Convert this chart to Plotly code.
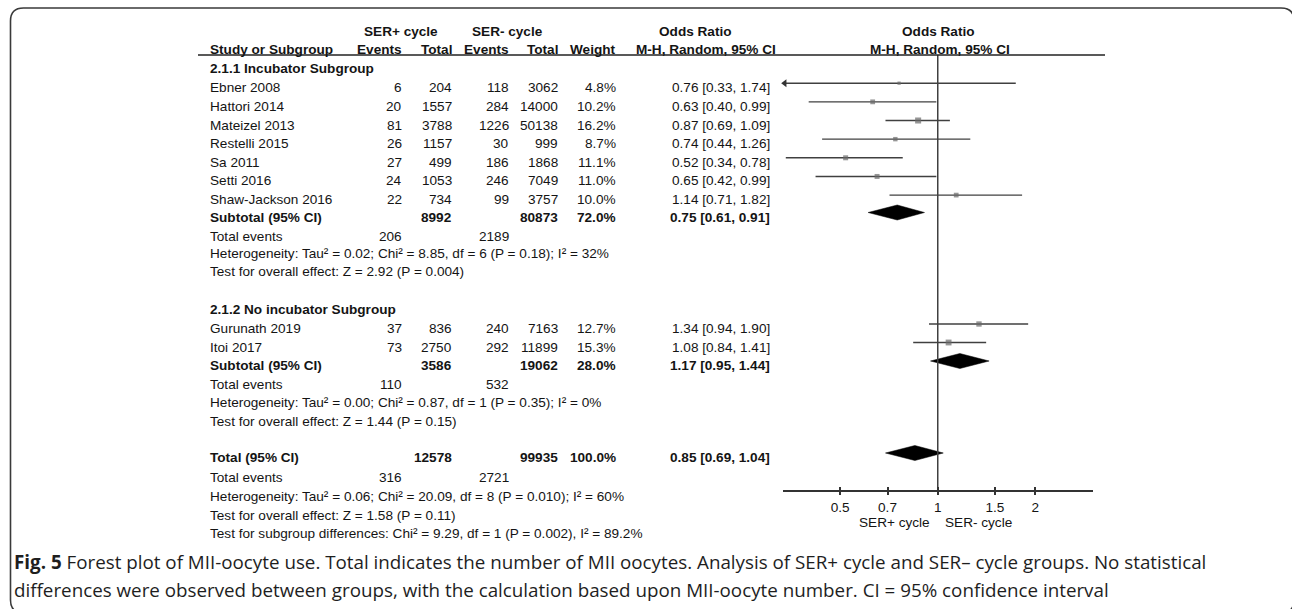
import math
import plotly.graph_objects as go

W, H = 1292, 609

# ---------------- data ----------------
g1_title = "2.1.1 Incubator Subgroup"
g1_names = ["Ebner 2008", "Hattori 2014", "Mateizel 2013", "Restelli 2015",
            "Sa 2011", "Setti 2016", "Shaw-Jackson 2016"]
g1_ev_pos = [6, 20, 81, 26, 27, 24, 22]
g1_tot_pos = [204, 1557, 3788, 1157, 499, 1053, 734]
g1_ev_neg = [118, 284, 1226, 30, 186, 246, 99]
g1_tot_neg = [3062, 14000, 50138, 999, 1868, 7049, 3757]
g1_weight = [4.8, 10.2, 16.2, 8.7, 11.1, 11.0, 10.0]
g1_or = [0.76, 0.63, 0.87, 0.74, 0.52, 0.65, 1.14]
g1_lo = [0.33, 0.40, 0.69, 0.44, 0.34, 0.42, 0.71]
g1_hi = [1.74, 0.99, 1.09, 1.26, 0.78, 0.99, 1.82]
g1_sub = dict(tot_pos=8992, tot_neg=80873, weight=72.0, est=0.75, lo=0.61, hi=0.91,
              ev_pos=206, ev_neg=2189)
g1_het = "Heterogeneity: Tau² = 0.02; Chi² = 8.85, df = 6 (P = 0.18); I² = 32%"
g1_test = "Test for overall effect: Z = 2.92 (P = 0.004)"

g2_title = "2.1.2 No incubator Subgroup"
g2_names = ["Gurunath 2019", "Itoi 2017"]
g2_ev_pos = [37, 73]
g2_tot_pos = [836, 2750]
g2_ev_neg = [240, 292]
g2_tot_neg = [7163, 11899]
g2_weight = [12.7, 15.3]
g2_or = [1.34, 1.08]
g2_lo = [0.94, 0.84]
g2_hi = [1.90, 1.41]
g2_sub = dict(tot_pos=3586, tot_neg=19062, weight=28.0, est=1.17, lo=0.95, hi=1.44,
              ev_pos=110, ev_neg=532)
g2_het = "Heterogeneity: Tau² = 0.00; Chi² = 0.87, df = 1 (P = 0.35); I² = 0%"
g2_test = "Test for overall effect: Z = 1.44 (P = 0.15)"

total = dict(tot_pos=12578, tot_neg=99935, weight=100.0, est=0.85, lo=0.69, hi=1.04,
             ev_pos=316, ev_neg=2721)
total_het = "Heterogeneity: Tau² = 0.06; Chi² = 20.09, df = 8 (P = 0.010); I² = 60%"
total_test = "Test for overall effect: Z = 1.58 (P = 0.11)"
total_subgrp = "Test for subgroup differences: Chi² = 9.29, df = 1 (P = 0.002), I² = 89.2%"

tick_vals = [0.5, 0.7, 1, 1.5, 2]
tick_text = ["0.5", "0.7", "1", "1.5", "2"]
x_min, x_max = 1 / 3, 3
favours_left = "SER+ cycle"
favours_right = "SER- cycle"

caption_bold = "Fig. 5"
caption_1 = (" Forest plot of MII-oocyte use. Total indicates the number of MII oocytes. "
             "Analysis of SER+ cycle and SER– cycle groups. No statistical")
caption_2 = ("differences were observed between groups, with the calculation based upon "
             "MII-oocyte number. CI = 95% confidence interval")

# ---------------- layout constants (pixels) ----------------
FONT = "Liberation Sans, Arial, sans-serif"
FS = 13.6
TXT = "#141414"
LINE = "#404040"
SQ = "#6a6a6a"

COL_NAME = 209
COL_EV1, COL_TOT1, COL_EV2, COL_TOT2, COL_WT, COL_CI = 403, 453, 510, 559, 617, 771

AX_Y = 490.7          # y of x axis line
AX_L, AX_R = 783, 1092.5
TOP_LINE_Y = 55
LINE_OFF = 4.5        # forest marks sit slightly above text centre

ROW_H1, ROW_H2 = 31, 49
Y_G1_TITLE = 68
Y_G1 = [87.7 + 18.65 * i for i in range(len(g1_names))]
Y_G1_SUB, Y_G1_EV, Y_G1_HET, Y_G1_TEST = 217, 236, 253.5, 271.5
Y_G2_TITLE = 309.5
Y_G2 = [328.5, 347.0]
Y_G2_SUB, Y_G2_EV, Y_G2_HET, Y_G2_TEST = 365.5, 384.3, 402.5, 421
Y_TOT, Y_TOT_EV, Y_TOT_HET, Y_TOT_TEST, Y_TOT_SUB = 457.5, 477, 496, 515, 533.3
Y_CAP1, Y_CAP2 = 562, 590

annotations = []


def txt(x, y, s, anchor="left", bold=False, size=FS, family=FONT, color=TXT):
    if bold:
        s = f"<b>{s}</b>"
    annotations.append(dict(x=x / W, xref="paper", y=y, yref="y", text=s,
                            showarrow=False, xanchor=anchor, yanchor="middle",
                            borderpad=0, font=dict(family=family, size=size, color=color)))


def ci_str(e, l, h):
    return f"{e:.2f} [{l:.2f}, {h:.2f}]"


# headers
txt(401, ROW_H1, "SER+ cycle", "center", True)
txt(507.5, ROW_H1, "SER- cycle", "center", True)
txt(695, ROW_H1, "Odds Ratio", "center", True)
txt(938.5, ROW_H1, "Odds Ratio", "center", True)
txt(COL_NAME, ROW_H2, "Study or Subgroup", "left", True)
txt(COL_EV1, ROW_H2, "Events", "right", True)
txt(COL_TOT1, ROW_H2, "Total", "right", True)
txt(COL_EV2, ROW_H2, "Events", "right", True)
txt(COL_TOT2, ROW_H2, "Total", "right", True)
txt(COL_WT, ROW_H2, "Weight", "right", True)
txt(706, ROW_H2, "M-H, Random, 95% CI", "center", True)
txt(940, ROW_H2, "M-H, Random, 95% CI", "center", True)


def study_rows(ys, names, ep, tp, en, tn, wt, est, lo, hi):
    for i, y in enumerate(ys):
        txt(COL_NAME, y, names[i])
        txt(COL_EV1, y, str(ep[i]), "right")
        txt(COL_TOT1, y, str(tp[i]), "right")
        txt(COL_EV2, y, str(en[i]), "right")
        txt(COL_TOT2, y, str(tn[i]), "right")
        txt(COL_WT, y, f"{wt[i]:.1f}%", "right")
        txt(COL_CI, y, ci_str(est[i], lo[i], hi[i]), "right")


def summary_row(y, label, d):
    txt(COL_NAME, y, label, bold=True)
    txt(COL_TOT1, y, str(d["tot_pos"]), "right", True)
    txt(COL_TOT2, y, str(d["tot_neg"]), "right", True)
    txt(COL_WT, y, f"{d['weight']:.1f}%", "right", True)
    txt(COL_CI, y, ci_str(d["est"], d["lo"], d["hi"]), "right", True)


def events_row(y, d):
    txt(COL_NAME, y, "Total events")
    txt(COL_EV1, y, str(d["ev_pos"]), "right")
    txt(COL_EV2, y, str(d["ev_neg"]), "right")


txt(COL_NAME, Y_G1_TITLE, g1_title, bold=True)
study_rows(Y_G1, g1_names, g1_ev_pos, g1_tot_pos, g1_ev_neg, g1_tot_neg, g1_weight, g1_or, g1_lo, g1_hi)
summary_row(Y_G1_SUB, "Subtotal (95% CI)", g1_sub)
events_row(Y_G1_EV, g1_sub)
txt(COL_NAME, Y_G1_HET, g1_het)
txt(COL_NAME, Y_G1_TEST, g1_test)

txt(COL_NAME, Y_G2_TITLE, g2_title, bold=True)
study_rows(Y_G2, g2_names, g2_ev_pos, g2_tot_pos, g2_ev_neg, g2_tot_neg, g2_weight, g2_or, g2_lo, g2_hi)
summary_row(Y_G2_SUB, "Subtotal (95% CI)", g2_sub)
events_row(Y_G2_EV, g2_sub)
txt(COL_NAME, Y_G2_HET, g2_het)
txt(COL_NAME, Y_G2_TEST, g2_test)

summary_row(Y_TOT, "Total (95% CI)", total)
events_row(Y_TOT_EV, total)
txt(COL_NAME, Y_TOT_HET, total_het)
txt(COL_NAME, Y_TOT_TEST, total_test)
txt(COL_NAME, Y_TOT_SUB, total_subgrp)

# favours labels
txt(931, 522.7, favours_left, "right")
txt(943.5, 522.7, favours_right, "left")

# caption
CAP_FONT = "Open Sans, Noto Sans, sans-serif"
CAP_FS = 18.8
annotations.append(dict(x=13 / W, xref="paper", y=Y_CAP1, yref="y",
                        text=f"<b>{caption_bold}</b>{caption_1}", showarrow=False,
                        xanchor="left", yanchor="middle", borderpad=0,
                        font=dict(family=CAP_FONT, size=CAP_FS, color="#1e1e1e")))
annotations.append(dict(x=13 / W, xref="paper", y=Y_CAP2, yref="y",
                        text=caption_2, showarrow=False,
                        xanchor="left", yanchor="middle", borderpad=0,
                        font=dict(family=CAP_FONT, size=CAP_FS, color="#1e1e1e")))

# ---------------- forest traces ----------------
fig = go.Figure()

all_est = g1_or + g2_or
all_lo = g1_lo + g2_lo
all_hi = g1_hi + g2_hi
all_wt = g1_weight + g2_weight
all_y = [y - LINE_OFF for y in Y_G1 + Y_G2]

cx, cy = [], []
for l, h, y in zip(all_lo, all_hi, all_y):
    cx += [l, h, None]
    cy += [y, y, None]
fig.add_trace(go.Scatter(x=cx, y=cy, mode="lines", line=dict(color=LINE, width=1.4),
                         hoverinfo="skip", showlegend=False))

fig.add_trace(go.Scatter(x=all_est, y=all_y, mode="markers",
                         marker=dict(symbol="square", color=SQ,
                                     size=[1.5 * math.sqrt(w) for w in all_wt],
                                     line=dict(width=0)),
                         showlegend=False, cliponaxis=False))

# arrows for CIs running off the axis
arr_x, arr_y, arr_s = [], [], []
for l, h, y in zip(all_lo, all_hi, all_y):
    if l < x_min:
        arr_x.append(x_min * 1.012); arr_y.append(y); arr_s.append("triangle-left")
    if h > x_max:
        arr_x.append(x_max / 1.012); arr_y.append(y); arr_s.append("triangle-right")
if arr_x:
    fig.add_trace(go.Scatter(x=arr_x, y=arr_y, mode="markers",
                             marker=dict(symbol=arr_s, size=7, color="#333333"),
                             showlegend=False, cliponaxis=False))

# diamonds
DH = 7.5
for d, y in [(g1_sub, Y_G1_SUB), (g2_sub, Y_G2_SUB), (total, Y_TOT)]:
    yy = y - LINE_OFF
    fig.add_trace(go.Scatter(x=[d["lo"], d["est"], d["hi"], d["est"], d["lo"]],
                             y=[yy, yy - DH, yy, yy + DH, yy],
                             mode="lines", fill="toself", fillcolor="black",
                             line=dict(color="black", width=0.5),
                             showlegend=False, hoverinfo="skip"))

# line of no effect
fig.add_trace(go.Scatter(x=[1, 1], y=[TOP_LINE_Y, AX_Y], mode="lines",
                         line=dict(color="#404040", width=1.5), showlegend=False,
                         hoverinfo="skip"))

# dummy trace for the overlay tick axis
fig.add_trace(go.Scatter(x=[1], y=[AX_Y], xaxis="x3", yaxis="y", mode="markers",
                         marker=dict(opacity=0), showlegend=False, hoverinfo="skip"))

# ---------------- shapes ----------------
shapes = []
shapes.append(dict(type="line", xref="paper", yref="y", x0=198 / W, x1=1105 / W,
                   y0=TOP_LINE_Y, y1=TOP_LINE_Y, line=dict(color="#222222", width=1.3)))

bx0, by0, bx1, by1, r = 10.5, 8.0, 1294, 613, 13


def P(x, y):
    return f"{x / W:.6f},{y:.2f}"


path = (f"M {P(bx0 + r, by0)} L {P(bx1 - r, by0)} Q {P(bx1, by0)} {P(bx1, by0 + r)} "
        f"L {P(bx1, by1 - r)} Q {P(bx1, by1)} {P(bx1 - r, by1)} "
        f"L {P(bx0 + r, by1)} Q {P(bx0, by1)} {P(bx0, by1 - r)} "
        f"L {P(bx0, by0 + r)} Q {P(bx0, by0)} {P(bx0 + r, by0)} Z")
shapes.append(dict(type="path", xref="paper", yref="y", path=path,
                   line=dict(color="#3a3a3a", width=1.6), layer="below"))

lr = [math.log10(x_min), math.log10(x_max)]
fig.update_layout(
    width=W, height=H,
    margin=dict(l=0, r=0, t=0, b=0, pad=0),
    paper_bgcolor="white", plot_bgcolor="rgba(0,0,0,0)",
    xaxis=dict(type="log", range=lr, domain=[AX_L / W, AX_R / W], anchor="free",
               position=1 - AX_Y / H, showline=True, linecolor="#333333", linewidth=1.5,
               ticks="outside", ticklen=4, tickwidth=1.5, tickcolor="#333333",
               tickvals=tick_vals, ticktext=tick_text,
               tickfont=dict(family=FONT, size=FS, color=TXT),
               showgrid=False, zeroline=False, fixedrange=True),
    xaxis3=dict(type="log", range=lr, overlaying="x", anchor="free",
                position=1 - AX_Y / H, showline=False,
                ticks="inside", ticklen=4, tickwidth=1.5, tickcolor="#333333",
                tickvals=tick_vals, showticklabels=False,
                showgrid=False, zeroline=False, fixedrange=True),
    yaxis=dict(range=[H, 0], domain=[0, 1], visible=False, fixedrange=True),
    annotations=annotations,
    shapes=shapes,
    showlegend=False,
)

fig.write_html("out.html")
